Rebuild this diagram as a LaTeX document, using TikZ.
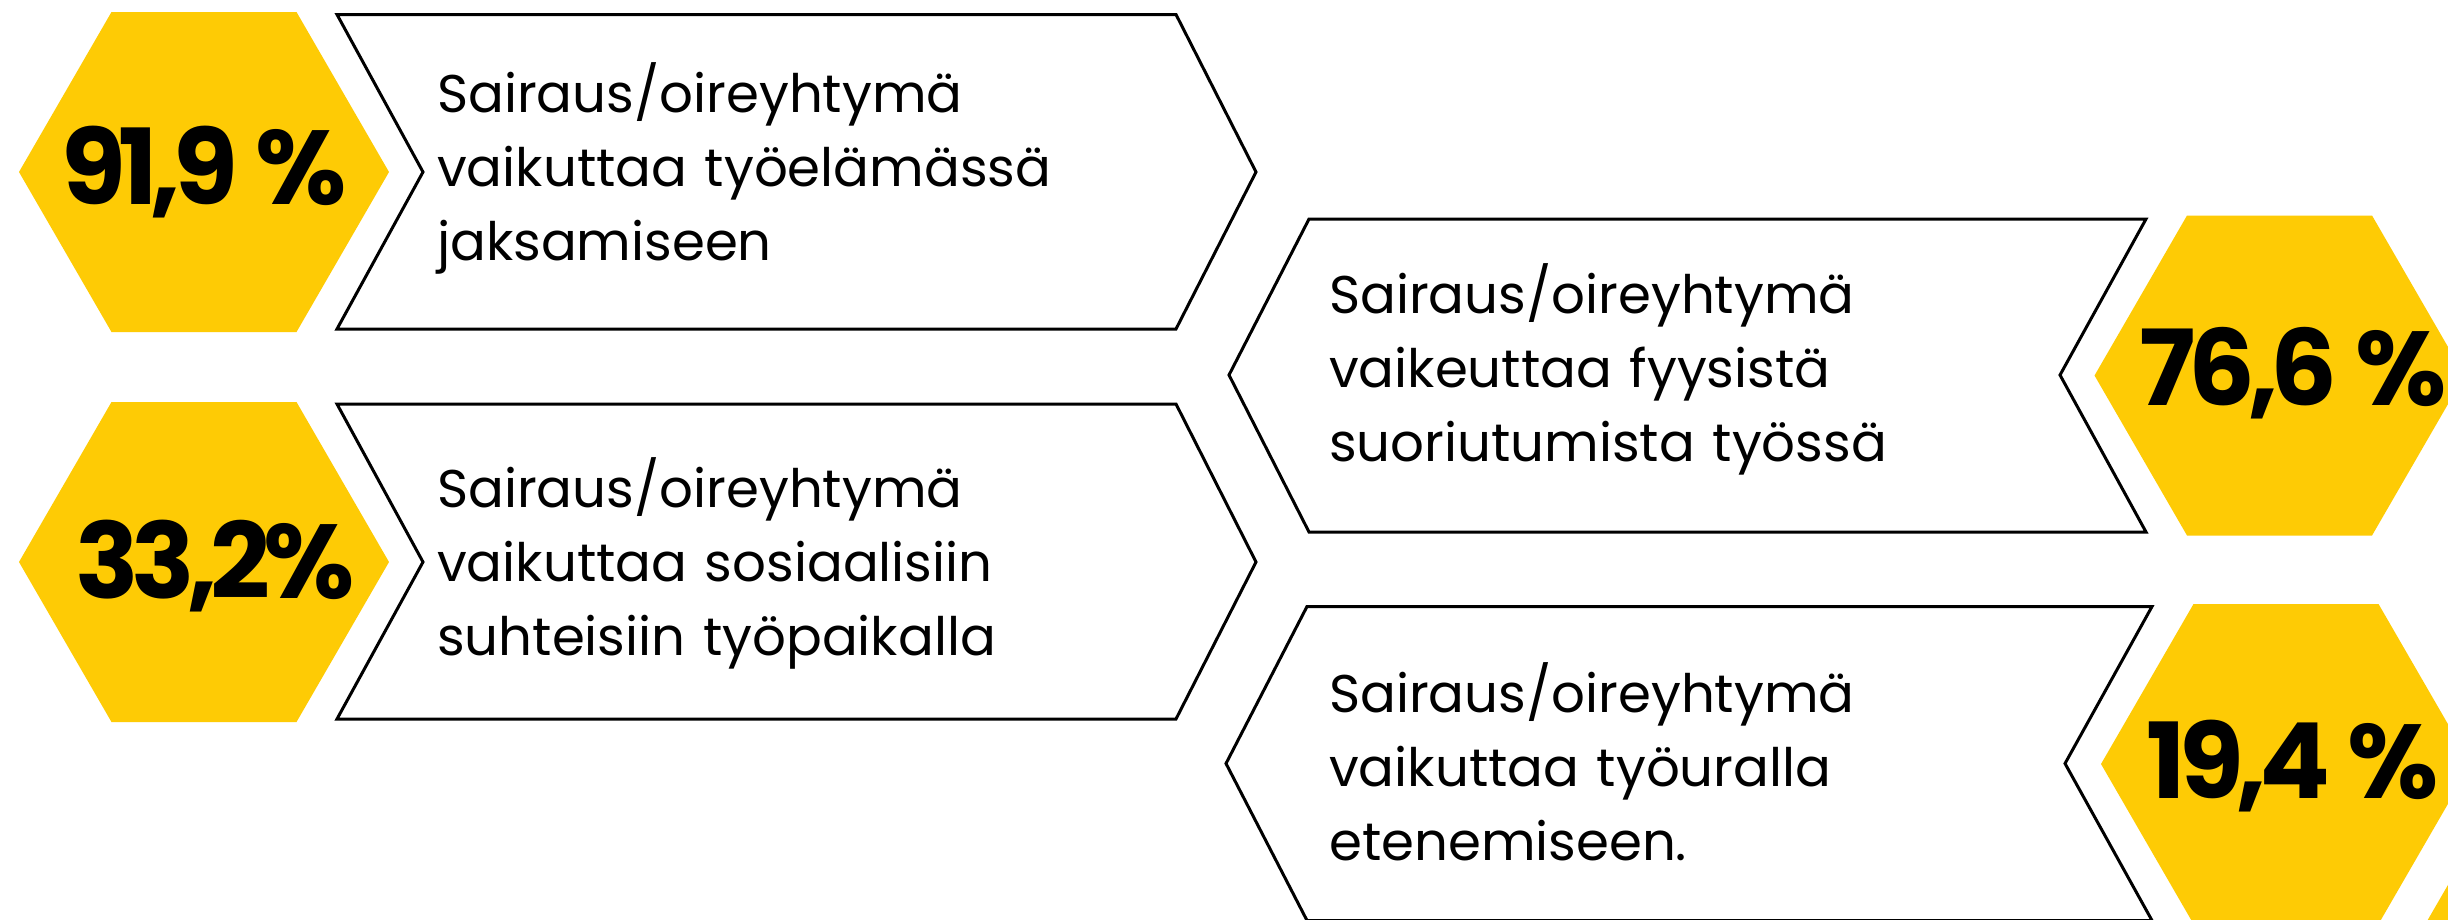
\documentclass[tikz,border=0pt]{standalone}
\usepackage{fontspec}
\setmainfont{Poppins}
\newfontfamily\numfont{Poppins}[UprightFont=* Bold, LetterSpace=-7]
\definecolor{hexyellow}{RGB}{254,203,5}
\tikzset{
  hexfill/.style={fill=hexyellow},
  hexa/.pic={\fill[hexfill] (-185,0) -- (-92.5,-160) -- (92.5,-160) -- (185,0) -- (92.5,160) -- (-92.5,160) -- cycle;},
  chevbox/.style={draw=black, line width=3pt, fill=white, line join=miter},
  bodytext/.style={anchor=base west, inner sep=0pt, text width=820pt, align=left, font=\fontsize{53}{74}\selectfont},
  numtext/.style={anchor=base, inner sep=0pt, font=\fontsize{105}{110}\selectfont\numfont}
}
\begin{document}
\begin{tikzpicture}[x=1pt, y=-1pt]
\useasboundingbox (0,0) rectangle (2448,919);
\clip (0,0) rectangle (2448,919);
\fill[white] (0,0) rectangle (2448,919);
% hexagons
\pic at (204,172) {hexa};
\pic at (204,562) {hexa};
\pic at (2279.5,375.5) {hexa};
\pic at (2286,764) {hexa};
\pic at (2567,999) {hexa};
% chevrons
\draw[chevbox] (337,14.5) -- (1176,14.5) -- (1256,172) -- (1176,329) -- (337,329) -- (423,172) -- cycle;
\draw[chevbox] (337,404) -- (1176,404) -- (1256,562) -- (1176,719) -- (337,719) -- (423,562) -- cycle;
\draw[chevbox] (1309,219) -- (2146,219) -- (2060,375) -- (2146,532) -- (1309,532) -- (1229,375) -- cycle;
\draw[chevbox] (1307,606.5) -- (2152,606.5) -- (2065,763.5) -- (2152,920.5) -- (1307,920.5) -- (1226,763.5) -- cycle;
% numbers
\node[numtext] (n1) at (204,204) {91,9\,\%};
\node[numtext] (n2) at (215,598) {33,2\%};
\node[numtext] (n3) at (2293,405) {76,6\,\%};
\node[numtext] (n4) at (2293,798) {19,4\,\%};
% texts
\node[bodytext] (t1) at (437,112) {Sairaus/oireyhtymä\\vaikuttaa työelämässä\\jaksamiseen};
\node[bodytext] (t2) at (437,507) {Sairaus/oireyhtymä\\vaikuttaa sosiaalisiin\\suhteisiin työpaikalla};
\node[bodytext] (t3) at (1329,313) {Sairaus/oireyhtymä\\vaikeuttaa fyysistä\\suoriutumista työssä};
\node[bodytext] (t4) at (1329,712) {Sairaus/oireyhtymä\\vaikuttaa työuralla\\etenemiseen.};
\end{tikzpicture}
\end{document}
